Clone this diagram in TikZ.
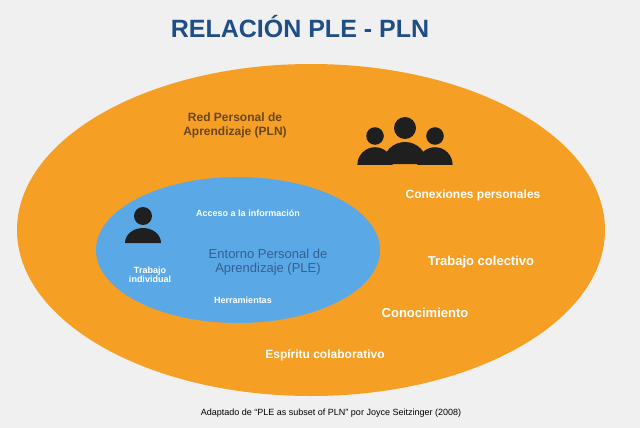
\documentclass[tikz,border=0pt]{standalone}
\usepackage{fontspec}
\setmainfont{Liberation Sans}
\definecolor{org}{HTML}{F5A024}
\definecolor{blu}{HTML}{5AA8E6}
\definecolor{ttl}{HTML}{1F4E86}
\begin{document}
\begin{tikzpicture}[x=1pt,y=-1pt,
 wt/.style={text=white,font=\bfseries\fontsize{#1}{#1}\selectfont,align=center},
 person/.style={fill=black!88}]
\useasboundingbox (0,0) rectangle (640,428);
\fill[gray!12] (0,0) rectangle (640,428);
\node[text=ttl,font=\bfseries\fontsize{25}{25}\selectfont] (title) at (300,27) {RELACIÓN PLE - PLN};
\fill[org] (311,230) ellipse [x radius=294, y radius=166];
\fill[blu] (238,250) ellipse [x radius=142, y radius=73];
% group icon
\foreach \px/\py/\s in {375/136/0.8,435/136/0.8,405/128/1}{
 \fill[person] (\px,\py) circle[radius=11*\s];
 \fill[person] (\px-22*\s,\py+36*\s) arc[start angle=180,end angle=360,x radius=22*\s,y radius=22*\s] -- cycle;
}
% single icon
\fill[person] (143,216) circle[radius=9];
\fill[person] (125,243) arc[start angle=180,end angle=360,x radius=18,y radius=15] -- cycle;
\node[text=brown!55!black,font=\bfseries\fontsize{12}{14}\selectfont,align=center] (pln) at (235,125) {Red Personal de\\Aprendizaje (PLN)};
\node[wt=12] (c1) at (473,195) {Conexiones personales};
\node[wt=13] (c2) at (481,262) {Trabajo colectivo};
\node[wt=13] (c3) at (425,313) {Conocimiento};
\node[wt=12] (c4) at (325,355) {Espíritu colaborativo};
\node[wt=9] (b1) at (248,213) {Acceso a la información};
\node[text=ttl!90,font=\fontsize{13}{14}\selectfont,align=center] (ple) at (268,262) {Entorno Personal de\\Aprendizaje (PLE)};
\node[wt=9] (b2) at (150,275) {Trabajo\\individual};
\node[wt=9] (b3) at (243,300) {Herramientas};
\node[font=\fontsize{9}{9}\selectfont] (cap) at (331,413) {Adaptado de ``PLE as subset of PLN'' por Joyce Seitzinger (2008)};
\end{tikzpicture}
\end{document}
